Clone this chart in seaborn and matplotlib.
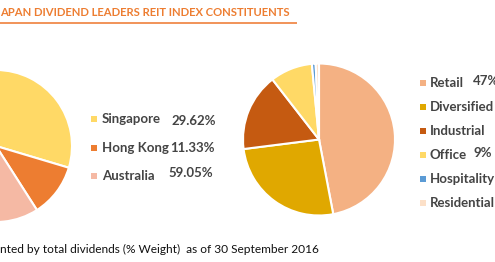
import matplotlib
matplotlib.use("Agg")
import matplotlib.pyplot as plt
import seaborn as sns

# ---- data ----
title_text = "APAN DIVIDEND LEADERS REIT INDEX CONSTITUENTS"
footnote_text = "nted by total dividends (% Weight)  as of 30 September 2016"

regions = ["Singapore", "Hong Kong", "Australia"]
region_weights = [29.62, 11.33, 59.05]
region_value_labels = ["29.62%", "11.33%", "59.05%"]
region_colors = ["#FFD966", "#ED7D31", "#F5B9A4"]

sectors = ["Retail", "Diversified", "Industrial", "Office", "Hospitality", "Residential"]
sector_weights = [47.0, 26.0, 16.5, 9.0, 0.8, 0.7]
sector_value_labels = ["47%", "", "", "9%", "", ""]
sector_colors = ["#F4B183", "#E0A800", "#C55A11", "#FFD966", "#5B9BD5", "#FCE0C8"]

# ---- figure ----
sns.set_theme(style="white")
plt.rcParams["font.family"] = ["Lato", "DejaVu Sans"]

W, H = 495, 262
fig = plt.figure(figsize=(W / 100, H / 100), dpi=100)
ax = fig.add_axes([0, 0, 1, 1])

def py(y):
    return H - y

wedge_style = dict(edgecolor="white", linewidth=1.5)
ax.pie(region_weights, colors=sns.color_palette(region_colors), startangle=90,
       counterclock=False, center=(-4, py(146)), radius=76, wedgeprops=wedge_style,
       frame=True)
ax.pie(sector_weights, colors=sns.color_palette(sector_colors), startangle=90,
       counterclock=False, center=(319, py(139.5)), radius=76, wedgeprops=wedge_style,
       frame=True)
ax.set_xlim(0, W)
ax.set_ylim(0, H)
ax.set_aspect("equal")
ax.axis("off")

txt_color = "#444444"
# left legend
left_rows_y = [119, 148, 176]
left_val_pos = [(171, 121), (170, 148), (168, 173)]
for name, val, col, y, (vx, vy) in zip(regions, region_value_labels, region_colors,
                                       left_rows_y, left_val_pos):
    ax.scatter([94], [py(y)], marker="s", s=20, color=col, linewidths=0)
    ax.text(102, py(y), name, ha="left", va="center", fontsize=9.5,
            fontweight="bold", color=txt_color)
    ax.text(vx, py(vy), val, ha="left", va="center", fontsize=9.5,
            fontweight="bold", color=txt_color)

# right legend
right_rows_y = [83, 107, 131, 155, 179, 203]
for name, val, col, y in zip(sectors, sector_value_labels, sector_colors, right_rows_y):
    ax.scatter([423], [py(y)], marker="s", s=20, color=col, linewidths=0)
    ax.text(430, py(y), name, ha="left", va="center", fontsize=9.5,
            fontweight="bold", color=txt_color)
    if val:
        ax.text(473, py(y - 2), val, ha="left", va="center", fontsize=9.5,
                fontweight="bold", color=txt_color)

# title and rule
ax.text(0, py(13), title_text, ha="left", va="center", fontsize=8.1,
        fontweight="bold", color="#ED7D31")
ax.plot([0, 297], [py(23), py(23)], color="#F08A4B", linewidth=1.3,
        solid_capstyle="butt")

# footnote
ax.text(0, py(249), footnote_text, ha="left", va="center", fontsize=8.6,
        color="#111111")

fig.savefig("out.png", dpi=100)
